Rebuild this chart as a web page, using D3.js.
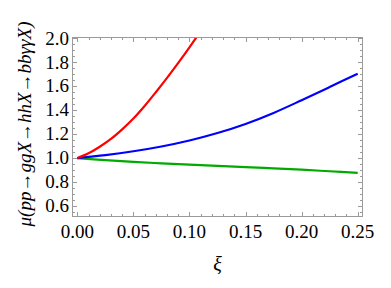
<!DOCTYPE html>
<html>
<head>
<meta charset="utf-8">
<script src="https://cdn.jsdelivr.net/npm/d3@7"></script>
</head>
<body style="margin:0">
<svg id="chart" width="391" height="288" font-family="Liberation Serif"></svg>
<script>
// ---- data ----
const xiRed = [0, 0.01, 0.02, 0.03, 0.04, 0.05, 0.06, 0.07, 0.08, 0.09, 0.10, 0.11];
const muRed = [1.0, 1.04, 1.095, 1.16, 1.24, 1.33, 1.435, 1.55, 1.67, 1.795, 1.925, 2.06];

const xi = [0, 0.025, 0.05, 0.075, 0.10, 0.125, 0.15, 0.175, 0.20, 0.225, 0.25];
const muBlue = [1.0, 1.025, 1.057, 1.097, 1.147, 1.209, 1.285, 1.377, 1.483, 1.593, 1.705];
const muGreen = [1.0, 0.983, 0.968, 0.956, 0.945, 0.935, 0.925, 0.914, 0.903, 0.890, 0.877];

const xTicks = [0, 0.05, 0.10, 0.15, 0.20, 0.25];
const yTicks = [0.6, 0.8, 1.0, 1.2, 1.4, 1.6, 1.8, 2.0];
const xMinorTicks = d3.range(0, 26).map(i => i / 100);
const yMinorTicks = d3.range(11, 41).map(i => i * 0.05);

const xLabel = "ξ";
const yLabel = "μ(pp→ggX→hhX→bbγγX)";

// ---- layout ----
const pLeft = 72.5, pRight = 362.5, pTop = 37.5, pBottom = 216.5;
const x = d3.scaleLinear().domain([-0.0043, 0.2543]).range([pLeft, pRight]);
const y = d3.scaleLinear().domain([0.5124, 2.0067]).range([pBottom, pTop]);

const svg = d3.select("#chart");
const frameColor = "#9a9a9a";
const fmtX = d3.format(".2f"), fmtY = d3.format(".1f");

svg.append("defs").append("clipPath").attr("id", "clip")
  .append("rect").attr("x", pLeft).attr("y", pTop)
  .attr("width", pRight - pLeft).attr("height", pBottom - pTop);

// curves
const line = (xs) => d3.line()
  .x((d, i) => x(xs[i]))
  .y(d => y(d))
  .curve(d3.curveCatmullRom.alpha(0.5));

const g = svg.append("g").attr("clip-path", "url(#clip)");
g.append("path").attr("d", line(xi)(muGreen))
  .attr("fill", "none").attr("stroke", "#00aa00").attr("stroke-width", 2.2);
g.append("path").attr("d", line(xi)(muBlue))
  .attr("fill", "none").attr("stroke", "#0000ff").attr("stroke-width", 2.2);
g.append("path").attr("d", line(xiRed)(muRed))
  .attr("fill", "none").attr("stroke", "#ff0000").attr("stroke-width", 2.2);

// ticks (inward, all four sides)
const tk = svg.append("g").attr("stroke", frameColor).attr("stroke-width", 1);
function vTicks(vals, len) {
  vals.forEach(v => {
    const px = Math.round(x(v)) + 0.5;
    tk.append("line").attr("x1", px).attr("x2", px).attr("y1", pBottom).attr("y2", pBottom - len);
    tk.append("line").attr("x1", px).attr("x2", px).attr("y1", pTop).attr("y2", pTop + len);
  });
}
function hTicks(vals, len) {
  vals.forEach(v => {
    const py = Math.round(y(v)) + 0.5;
    tk.append("line").attr("y1", py).attr("y2", py).attr("x1", pLeft).attr("x2", pLeft + len);
    tk.append("line").attr("y1", py).attr("y2", py).attr("x1", pRight).attr("x2", pRight - len);
  });
}
vTicks(xMinorTicks, 2.5);
vTicks(xTicks, 4.5);
hTicks(yMinorTicks, 2.5);
hTicks(yTicks, 4.5);

// tick labels
svg.append("g").selectAll("text").data(xTicks).join("text")
  .attr("x", d => x(d)).attr("y", 237.5)
  .attr("text-anchor", "middle").attr("font-size", 19).attr("fill", "#000")
  .attr("font-family", "Liberation Serif")
  .text(d => fmtX(d));
svg.append("g").selectAll("text").data(yTicks).join("text")
  .attr("x", 69).attr("y", d => y(d)).attr("dy", "0.33em")
  .attr("text-anchor", "end").attr("font-size", 19).attr("fill", "#000")
  .attr("font-family", "Liberation Serif")
  .text(d => fmtY(d));

// frame
svg.append("rect").attr("x", pLeft).attr("y", pTop)
  .attr("width", pRight - pLeft).attr("height", pBottom - pTop)
  .attr("fill", "none").attr("stroke", frameColor).attr("stroke-width", 1);

// axis labels
svg.append("text").attr("x", (pLeft + pRight) / 2).attr("y", 271)
  .attr("text-anchor", "middle").attr("font-family", "Liberation Serif").attr("font-size", 20)
  .attr("font-style", "italic")
  .text(xLabel);

svg.append("text")
  .attr("transform", `translate(31,124) rotate(-90)`)
  .attr("text-anchor", "middle").attr("font-family", "Liberation Serif").attr("font-size", 19)
  .attr("font-style", "italic")
  .text(yLabel);
</script>
</body>
</html>
